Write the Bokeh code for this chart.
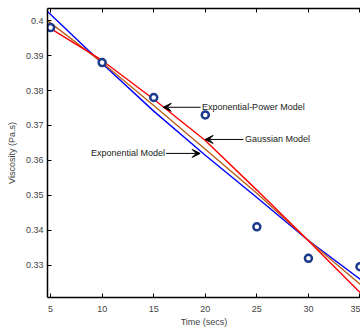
from bokeh.plotting import figure
from bokeh.models import (Range1d, FixedTicker, LinearAxis, Arrow, VeeHead, Label)
from bokeh.embed import file_html
from bokeh.resources import INLINE

# measured data
time_s = [5, 10, 15, 20, 25, 30, 35]
viscosity = [0.3980, 0.3880, 0.3780, 0.3730, 0.3410, 0.3320, 0.3296]

# fitted model curves
curve_t = [4.7, 10, 15, 20, 25, 30, 35.2]
exp_model = [0.4026, 0.3877, 0.3741, 0.3615, 0.3494, 0.3371, 0.3256]
gauss_model = [0.3983, 0.3886, 0.3775, 0.3657, 0.3515, 0.3370, 0.3216]
exppow_model = [0.4000, 0.3880, 0.3757, 0.3632, 0.3506, 0.3371, 0.3241]

x_ticks = [5, 10, 15, 20, 25, 30, 35]
y_ticks = [0.33, 0.34, 0.35, 0.36, 0.37, 0.38, 0.39, 0.40]
y_tick_labels = ["0.33", "0.34", "0.35", "0.36", "0.37", "0.38", "0.39", "0.4"]

FONT = "Liberation Sans"

p = figure(width=360, height=329, output_backend="svg", toolbar_location=None,
           x_range=Range1d(4.7, 35.05), y_range=Range1d(0.32078, 0.40346),
           min_border_left=47, min_border_right=0, min_border_top=8, min_border_bottom=32)
p.outline_line_color = None
p.grid.visible = False
p.background_fill_color = "white"
p.border_fill_color = "white"

p.line(curve_t, exp_model, line_color="#0000FF", line_width=1.4)
p.line(curve_t, exppow_model, line_color="#B8601A", line_width=1.4)
p.line(curve_t, gauss_model, line_color="#FF0000", line_width=1.4)
p.scatter(time_s, viscosity, marker="circle", size=7, fill_color="white",
          line_color="#1C3A8C", line_width=2.5)

xa = p.xaxis[0]
xa.ticker = FixedTicker(ticks=x_ticks)
xa.major_tick_in = 4
xa.major_tick_out = 0
xa.minor_tick_line_color = None
xa.axis_label = "Time (secs)"
xa.axis_label_text_font = FONT
xa.axis_label_text_font_style = "normal"
xa.axis_label_text_font_size = "9px"
xa.axis_label_standoff = 2
xa.major_label_text_font = FONT
xa.major_label_text_font_size = "9px"
xa.major_label_standoff = 8
xa.axis_line_width = 1.5

ya = p.yaxis[0]
ya.ticker = FixedTicker(ticks=y_ticks)
ya.major_label_overrides = {t: s for t, s in zip(y_ticks, y_tick_labels)}
ya.major_tick_in = 4
ya.major_tick_out = 0
ya.minor_tick_line_color = None
ya.axis_label = "Viscosity (Pa.s)"
ya.axis_label_text_font = FONT
ya.axis_label_text_font_style = "normal"
ya.axis_label_text_font_size = "9px"
ya.axis_label_standoff = 6
ya.major_label_text_font = FONT
ya.major_label_text_font_size = "9px"
ya.major_label_standoff = 4
ya.axis_line_width = 1.5

top = LinearAxis(ticker=FixedTicker(ticks=x_ticks), major_tick_in=4, major_tick_out=0,
                 minor_tick_line_color=None, major_label_text_font_size="1px",
                 major_label_text_color=None, major_label_standoff=0, axis_line_width=1.5)
p.add_layout(top, "above")

# annotations
ann = [
    ("Exponential-Power Model", 19.69, 0.3752, 15.92, 0.3752),
    ("Gaussian Model", 23.84, 0.3660, 19.98, 0.3660),
]
for txt, tx, ty, hx, hy in ann:
    p.add_layout(Arrow(end=VeeHead(size=8, fill_color="black", line_color="black", line_width=1),
                       x_start=tx - 0.15, y_start=ty, x_end=hx, y_end=hy,
                       line_color="black", line_width=1))
    p.add_layout(Label(x=tx, y=ty, text=txt, text_font=FONT, text_font_size="9px",
                       text_baseline="middle", text_align="left", text_color="#222222"))

p.add_layout(Arrow(end=VeeHead(size=8, fill_color="black", line_color="black", line_width=1),
                   x_start=16.2, y_start=0.3620, x_end=19.5, y_end=0.3620,
                   line_color="black", line_width=1))
p.add_layout(Label(x=16.1, y=0.3620, text="Exponential Model", text_font=FONT,
                   text_font_size="9px", text_baseline="middle", text_align="right",
                   text_color="#222222"))

open("out.html", "w").write(file_html(p, INLINE))
